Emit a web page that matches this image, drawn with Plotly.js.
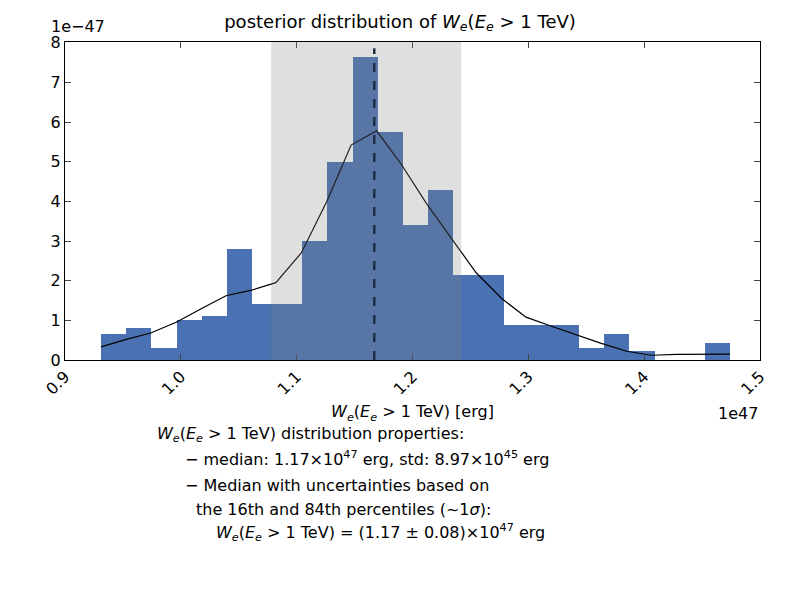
<!DOCTYPE html>
<html>
<head>
<script src="https://cdn.plot.ly/plotly-3.0.1.min.js"></script>
<style>body{margin:0}</style>
</head>
<body>
<div id="chart" style="width:800px;height:600px"></div>
<script>
// histogram, x in units of 1e47 erg, y in units of 1e-47
const binStart = 0.9311;
const binWidth = 0.02172;
const binHeights = [0.65, 0.8, 0.3, 1.02, 1.1, 2.8, 1.4, 1.4, 3.0, 5.0, 7.65, 5.75, 3.4, 4.28,
    2.15, 2.15, 0.88, 0.88, 0.88, 0.3, 0.65, 0.22, 0, 0, 0.43];
// smoothed density curve
const curveX = [0.931, 0.953, 0.974, 0.996, 1.018, 1.039, 1.061, 1.082, 1.104, 1.126, 1.147,
    1.169, 1.190, 1.212, 1.234, 1.255, 1.277, 1.298, 1.320, 1.342, 1.363, 1.385, 1.406, 1.428, 1.474];
const curveY = [0.33, 0.52, 0.68, 0.95, 1.3, 1.62, 1.76, 1.95, 2.7, 4.0, 5.42, 5.78, 4.95, 3.95,
    3.05, 2.2, 1.55, 1.08, 0.85, 0.62, 0.42, 0.22, 0.12, 0.14, 0.15];
const median = 1.167;
const lower = 1.078;
const upper = 1.242;

const binCenters = binHeights.map((_, i) => binStart + binWidth * (i + 0.5));

const data = [
    {
        type: 'bar',
        x: binCenters,
        y: binHeights,
        width: binWidth,
        marker: {color: '#4a72b2', line: {width: 0}},
        hoverinfo: 'skip',
    },
    {
        type: 'scatter',
        mode: 'lines',
        x: curveX,
        y: curveY,
        line: {color: 'black', width: 1.2},
    },
];

const font = {family: 'DejaVu Sans', size: 16, color: 'black'};
const W = '<i>W<sub>e</sub></i>(<i>E<sub>e</sub></i> > 1 TeV)';

const layout = {
    width: 800,
    height: 600,
    showlegend: false,
    plot_bgcolor: 'white',
    paper_bgcolor: 'white',
    font: font,
    margin: {l: 65, r: 40, t: 42, b: 240},
    title: {text: 'posterior distribution of ' + W, font: {size: 18}, y: 0.975, yanchor: 'top'},
    bargap: 0,
    xaxis: {
        range: [0.9, 1.5],
        tickvals: [0.9, 1.0, 1.1, 1.2, 1.3, 1.4, 1.5],
        ticktext: ['0.9', '1.0', '1.1', '1.2', '1.3', '1.4', '1.5'],
        tickangle: -45,
        ticks: 'inside', ticklen: 6,
        showgrid: false, zeroline: false,
        showline: true, mirror: 'ticks', linecolor: 'black',
        title: {text: W + ' [erg]', font: {size: 16}, standoff: 8},
    },
    yaxis: {
        range: [0, 8.02],
        tickvals: [0, 1, 2, 3, 4, 5, 6, 7, 8],
        ticks: 'inside', ticklen: 6,
        showgrid: false, zeroline: false,
        showline: true, mirror: 'ticks', linecolor: 'black',
    },
    shapes: [
        {type: 'rect', xref: 'x', yref: 'paper', x0: lower, x1: upper, y0: 0, y1: 1,
         fillcolor: 'rgb(128,128,128)', opacity: 0.25, line: {width: 0}, layer: 'above'},
        {type: 'line', xref: 'x', yref: 'paper', x0: median, x1: median, y0: 0, y1: 0.98,
         line: {color: '#1f2f48', width: 2.5, dash: 'dash'}, layer: 'above'},
    ],
    annotations: [
        {text: '1e\u221247', xref: 'paper', yref: 'paper', x: 0, y: 1, xanchor: 'left', yanchor: 'bottom',
         showarrow: false, xshift: -16, yshift: 4},
        {text: '1e47', xref: 'paper', yref: 'paper', x: 1, y: 0, xanchor: 'right', yanchor: 'top',
         showarrow: false, yshift: -42},
        {text: W + ' distribution properties:', xref: 'paper', yref: 'paper', x: 0.13, y: -0.275,
         xanchor: 'left', showarrow: false},
        {text: '\u2212 median: 1.17\u00d710<sup>47</sup> erg, std: 8.97\u00d710<sup>45</sup> erg',
         xref: 'paper', yref: 'paper', x: 0.17, y: -0.35, xanchor: 'left', showarrow: false},
        {text: '\u2212 Median with uncertainties based on', xref: 'paper', yref: 'paper', x: 0.17, y: -0.43,
         xanchor: 'left', showarrow: false},
        {text: 'the 16th and 84th percentiles (~1<i>\u03c3</i>):', xref: 'paper', yref: 'paper', x: 0.185, y: -0.505,
         xanchor: 'left', showarrow: false},
        {text: W + ' = (1.17 \u00b1 0.08)\u00d710<sup>47</sup> erg', xref: 'paper', yref: 'paper', x: 0.215, y: -0.585,
         xanchor: 'left', showarrow: false},
    ],
};

Plotly.newPlot('chart', data, layout, {displayModeBar: false, staticPlot: true});
</script>
</body>
</html>
